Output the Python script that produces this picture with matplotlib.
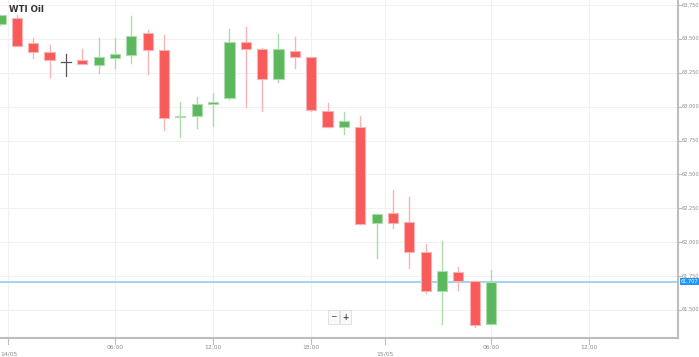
import matplotlib.pyplot as plt
from matplotlib.patches import Rectangle

# hourly candles, 13/05 23:00 .. 15/05 06:00 (one gap hour around midnight)
opens = [63.610, 63.654, 63.470, 63.403, 63.330, 63.344, 63.308, 63.359, 63.381, 63.544,
         63.418, 62.922, 62.931, 63.020, 63.064, 63.477, 63.426, 63.204, 63.411, 63.367,
         62.968, 62.850, 62.850, 62.142, 62.216, 62.150, 61.928, 61.641, 61.781, 61.715, 61.397]
highs = [63.680, 63.676, 63.507, 63.455, 63.389, 63.426, 63.507, 63.507, 63.669, 63.566,
         63.529, 63.035, 63.072, 63.101, 63.573, 63.588, 63.433, 63.536, 63.514, 63.370,
         63.027, 62.961, 62.931, 62.209, 62.386, 62.334, 61.987, 62.010, 61.818, 61.715, 61.796]
lows = [63.605, 63.448, 63.359, 63.219, 63.226, 63.315, 63.249, 63.285, 63.322, 63.241,
        62.828, 62.777, 62.843, 62.858, 63.060, 62.998, 62.968, 63.182, 63.285, 62.970,
        62.850, 62.799, 62.135, 61.884, 62.106, 61.810, 61.626, 61.397, 61.648, 61.375, 61.397]
closes = [63.676, 63.448, 63.403, 63.344, 63.330, 63.315, 63.367, 63.389, 63.521, 63.418,
          62.917, 62.926, 63.020, 63.035, 63.477, 63.426, 63.204, 63.426, 63.367, 62.976,
          62.850, 62.894, 62.135, 62.209, 62.142, 61.928, 61.641, 61.788, 61.715, 61.390, 61.707]
first_idx = -1

tick_pos = [-0.54, 6, 12, 18, 22.5, 29, 35]
tick_lbl = ['14/05', '06:00', '12:00', '18:00', '15/05', '06:00', '12:00']
is_date = [True, False, False, False, True, False, False]
y_ticks = [61.5, 61.75, 62.0, 62.25, 62.5, 62.75, 63.0, 63.25, 63.5, 63.75]

red = '#f95a5a'
red_wick = '#f8b4b4'
green = '#5cb85c'
green_wick = '#addcad'
grid_c = '#f1f1f1'
axis_c = '#bdbdbd'
txt_c = '#8a8a8a'

fig = plt.figure(figsize=(6.99, 3.57), dpi=100)
ax = fig.add_axes([0, 19 / 357, 678 / 699, 338 / 357])

w = 0.62
for k in range(len(opens)):
    x = first_idx + k
    o, h, l, c = opens[k], highs[k], lows[k], closes[k]
    if abs(c - o) < 1e-9:
        ax.plot([x, x], [l, h], color='#555555', lw=0.9, zorder=3)
        ax.plot([x - w / 2, x + w / 2], [o, o], color='#555555', lw=0.9, zorder=3)
        continue
    up = c > o
    body_c = green if up else red
    wick_c = green_wick if up else red_wick
    ax.plot([x, x], [l, h], color=wick_c, lw=1.0, zorder=2)
    bot, top = min(o, c), max(o, c)
    hgt = max(top - bot, 0.012)
    ax.add_patch(Rectangle((x - w / 2, bot), w, hgt, facecolor=body_c,
                           edgecolor=wick_c, lw=0.8, zorder=3))

ax.set_xlim(-1.03, 40.43)
ax.set_ylim(61.293, 63.787)

for yv in y_ticks:
    ax.axhline(yv, color=grid_c, lw=0.8, zorder=0)
for xv in tick_pos:
    ax.axvline(xv, color=grid_c, lw=0.8, zorder=0)

last = closes[-1]
ax.axhline(last, color='#8fcdf5', lw=1.2, zorder=1)

ax.set_xticks([])
ax.set_yticks([])
for s in ['top', 'left']:
    ax.spines[s].set_visible(False)
for s in ['bottom', 'right']:
    ax.spines[s].set_color(axis_c)
    ax.spines[s].set_linewidth(1.5)

xf = ax.get_xaxis_transform()
yf = ax.get_yaxis_transform()
for xv, lbl, d in zip(tick_pos, tick_lbl, is_date):
    ax.plot([xv, xv], [0, -0.018], color=axis_c, lw=0.8, transform=xf, clip_on=False)
    if d:
        ha = 'left' if xv < 0 else 'center'
        xt = -1.0 if xv < 0 else xv
        ax.text(xt, -0.04, lbl, transform=xf, ha=ha, va='top', fontsize=4.3,
                color=txt_c, clip_on=False)
    else:
        ax.text(xv, -0.02, lbl, transform=xf, ha='center', va='top', fontsize=4.3,
                color=txt_c, clip_on=False)

for yv in y_ticks:
    ax.plot([1.0, 1.004], [yv, yv], color=axis_c, lw=0.8, transform=yf, clip_on=False)
    ax.text(1.005, yv, '%.3f' % yv, transform=yf, ha='left', va='center', fontsize=3.6,
            color=txt_c, clip_on=False)

ax.text(1.0045, last, '%.3f' % last, transform=yf, ha='left', va='center', fontsize=3.6,
        color='white', clip_on=False,
        bbox=dict(boxstyle='square,pad=0.2', facecolor='#2196f3', edgecolor='none'))

ax.text(0.014, 0.985, 'WTI Oil', transform=ax.transAxes, ha='left', va='top',
        fontsize=6.2, fontweight='bold', color='#333333')

bs = dict(boxstyle='square,pad=0.3', facecolor='#fafafa', edgecolor='#dddddd', lw=0.6)
ax.text(0.492, 0.062, '\u2212', transform=ax.transAxes, ha='center', va='center',
        fontsize=5.5, color='#444444', bbox=bs)
ax.text(0.509, 0.062, '+', transform=ax.transAxes, ha='center', va='center',
        fontsize=5.5, fontweight='bold', color='#444444', bbox=bs)

fig.savefig('out.png', dpi=100)
